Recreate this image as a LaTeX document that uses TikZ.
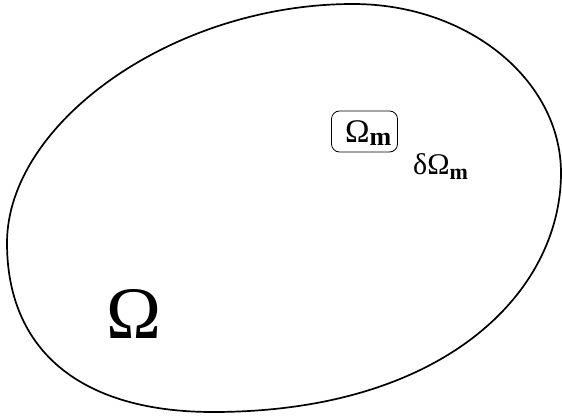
\documentclass[tikz,border=0pt]{standalone}
\usepackage{fontspec}
\setmainfont{Liberation Serif}
\begin{document}
\begin{tikzpicture}[x=1pt,y=-1pt,
  lbl/.style={inner sep=0pt, font=\fontsize{30}{32}\selectfont}]
\useasboundingbox (0,0) rectangle (562,420);
\coordinate (T) at (353,4);
\coordinate (R) at (561,173);
\coordinate (B) at (213,412);
\coordinate (L) at (7,243);
\draw[line width=1.7pt] (T) .. controls (468,4) and (561,80) .. (R)
  .. controls (561,293) and (443,412) .. (B)
  .. controls (80,412) and (7,350) .. (L)
  .. controls (7,123) and (173,4) .. (T) -- cycle;
\node[draw, line width=0.8pt, rounded corners=8pt, minimum width=66pt, minimum height=41pt, inner sep=0pt] (box) at (364.5,131.5) {};
\node[lbl, anchor=base west, font=\fontsize{33}{35}\selectfont] (om) at (345,142) {Ω\raisebox{-3pt}{\fontsize{26}{28}\selectfont\textbf{m}}};
\node[lbl, anchor=base west] (dom) at (413,174) {δΩ\raisebox{-5pt}{\fontsize{22}{24}\selectfont\textbf{m}}};
\node[inner sep=0pt, font=\fontsize{74}{80}\selectfont, anchor=base] (O) at (134,338) {Ω};
\end{tikzpicture}
\end{document}
